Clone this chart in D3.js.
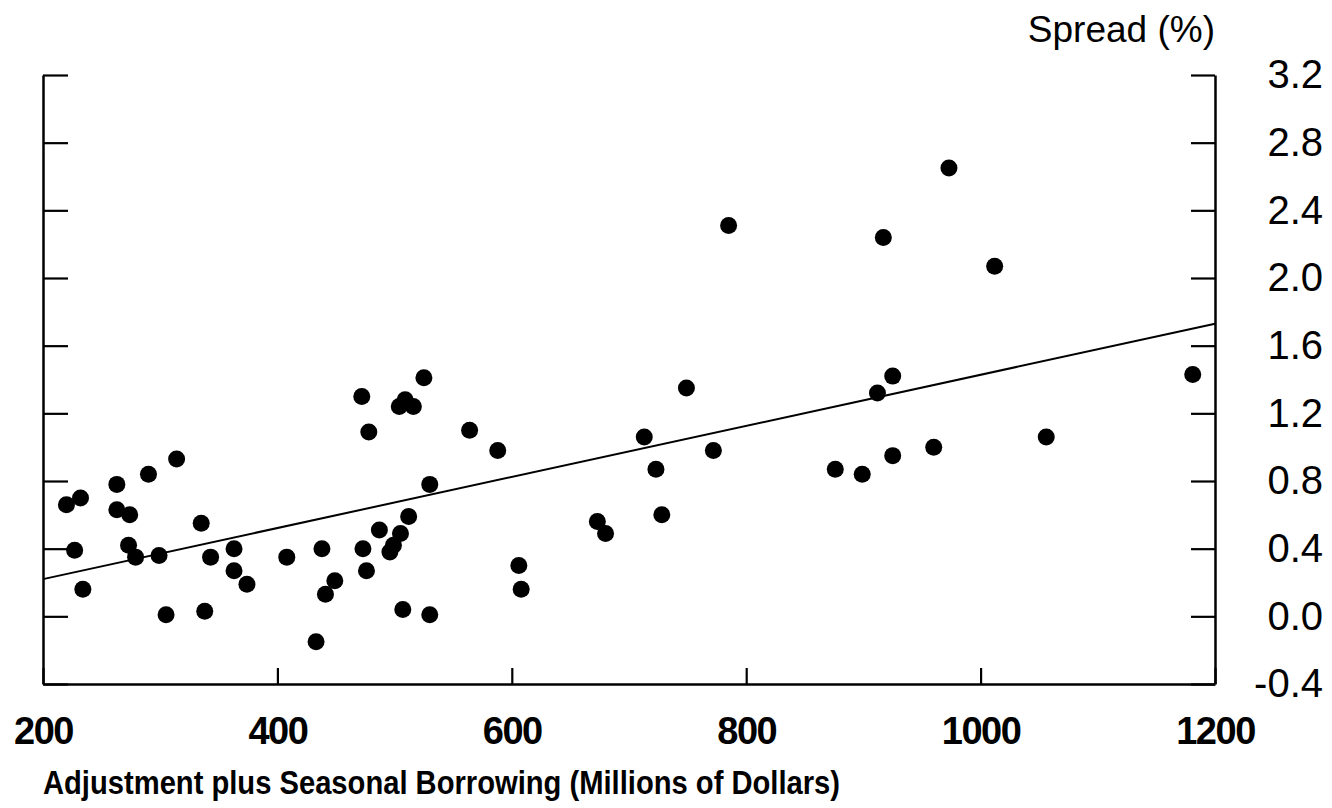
<!DOCTYPE html>
<html>
<head>
<meta charset="utf-8">
<script src="https://cdn.jsdelivr.net/npm/d3@7"></script>
<style>
  body { margin: 0; background: #fff; }
  text { font-family: 'Liberation Sans', Arial, Helvetica, sans-serif; fill: #000; }
</style>
</head>
<body>
<script>
// Constants
const width = 1332;
const height = 808;
const margin = { top: 75, right: 117, bottom: 124, left: 43 };

const xAxisLabel = 'Adjustment plus Seasonal Borrowing (Millions of Dollars)';
const yAxisLabel = 'Spread (%)';

// Data
const borrowing = [
  220, 232, 227, 234, 263, 263, 274, 273, 279, 290,
  299, 314, 305, 335, 343, 338, 363, 363, 374, 408,
  438, 449, 441, 433, 472, 478, 473, 476, 487, 496,
  499, 505, 512, 504, 509, 516, 525, 530, 507, 530,
  564, 588, 606, 608, 673, 680, 713, 723, 728, 749,
  772, 785, 876, 899, 912, 925, 925, 917, 973, 960,
  1012, 1056, 1181,
];
const spread = [
  0.66, 0.70, 0.39, 0.16, 0.78, 0.63, 0.60, 0.42, 0.35, 0.84,
  0.36, 0.93, 0.01, 0.55, 0.35, 0.03, 0.40, 0.27, 0.19, 0.35,
  0.40, 0.21, 0.13, -0.15, 1.30, 1.09, 0.40, 0.27, 0.51, 0.38,
  0.42, 0.49, 0.59, 1.24, 1.28, 1.24, 1.41, 0.78, 0.04, 0.01,
  1.10, 0.98, 0.30, 0.16, 0.56, 0.49, 1.06, 0.87, 0.60, 1.35,
  0.98, 2.31, 0.87, 0.84, 1.32, 1.42, 0.95, 2.24, 2.65, 1.00,
  2.07, 1.06, 1.43,
];
const fitX = [200, 1200];
const fitY = [0.22, 1.73];
const xTicks = [200, 400, 600, 800, 1000, 1200];
const yTicks = [-0.4, 0.0, 0.4, 0.8, 1.2, 1.6, 2.0, 2.4, 2.8, 3.2];

const points = borrowing.map((b, i) => ({ x: b, y: spread[i] }));
const fit = fitX.map((f, i) => ({ x: f, y: fitY[i] }));

const svg = d3.select('body')
  .append('svg')
  .attr('width', width)
  .attr('height', height);

// Scales
const xScale = d3.scaleLinear()
  .domain([200, 1200])
  .range([margin.left, width - margin.right]);

const yScale = d3.scaleLinear()
  .domain([-0.4, 3.2])
  .range([height - margin.bottom, margin.top]);

// Left axis: inward ticks, no labels
const leftAxis = svg.append('g')
  .attr('transform', `translate(${margin.left},0)`)
  .call(d3.axisLeft(yScale).tickValues(yTicks).tickSizeInner(-25).tickSizeOuter(0).tickFormat(''));

// Right axis: inward ticks, labels right aligned (plain hyphen for minus)
const rightAxis = svg.append('g')
  .attr('transform', `translate(${width - margin.right},0)`)
  .call(d3.axisRight(yScale).tickValues(yTicks).tickSizeInner(-24).tickSizeOuter(0)
    .tickFormat((d) => d.toFixed(1)));

rightAxis.selectAll('text')
  .attr('x', 108)
  .attr('text-anchor', 'end')
  .attr('font-size', '40px')
  .style('font-family', "'Liberation Sans', Arial, sans-serif");

// Bottom axis
const bottomAxis = svg.append('g')
  .attr('transform', `translate(0,${height - margin.bottom})`)
  .call(d3.axisBottom(xScale).tickValues(xTicks).tickSizeInner(-16).tickSizeOuter(0)
    .tickPadding(33).tickFormat(d3.format('d')));

bottomAxis.selectAll('text')
  .attr('font-size', '38px')
  .attr('font-weight', 'bold')
  .attr('letter-spacing', '-1.5px')
  .style('font-family', "'Liberation Sans', Arial, sans-serif");

[leftAxis, rightAxis, bottomAxis].forEach((g) => {
  g.select('.domain').attr('stroke', '#000').attr('stroke-width', 2.5);
  g.selectAll('.tick line').attr('stroke', '#000').attr('stroke-width', 2.2);
});

// Axis titles
svg.append('text')
  .attr('x', width - margin.right)
  .attr('y', 42)
  .attr('text-anchor', 'end')
  .attr('font-size', '37px')
  .text(yAxisLabel);

svg.append('text')
  .attr('x', margin.left)
  .attr('y', 794)
  .attr('font-size', '34px')
  .attr('font-weight', 'bold')
  .attr('textLength', 797)
  .attr('lengthAdjust', 'spacingAndGlyphs')
  .text(xAxisLabel);

// Regression line
svg.append('path')
  .datum(fit)
  .attr('fill', 'none')
  .attr('stroke', '#000')
  .attr('stroke-width', 2)
  .attr('d', d3.line().x((d) => xScale(d.x)).y((d) => yScale(d.y)));

// Dots
svg.append('g')
  .selectAll('.dot')
  .data(points)
  .join('circle')
  .attr('class', 'dot')
  .attr('cx', (d) => xScale(d.x))
  .attr('cy', (d) => yScale(d.y))
  .attr('r', 8.5)
  .attr('fill', '#000');
</script>
</body>
</html>
